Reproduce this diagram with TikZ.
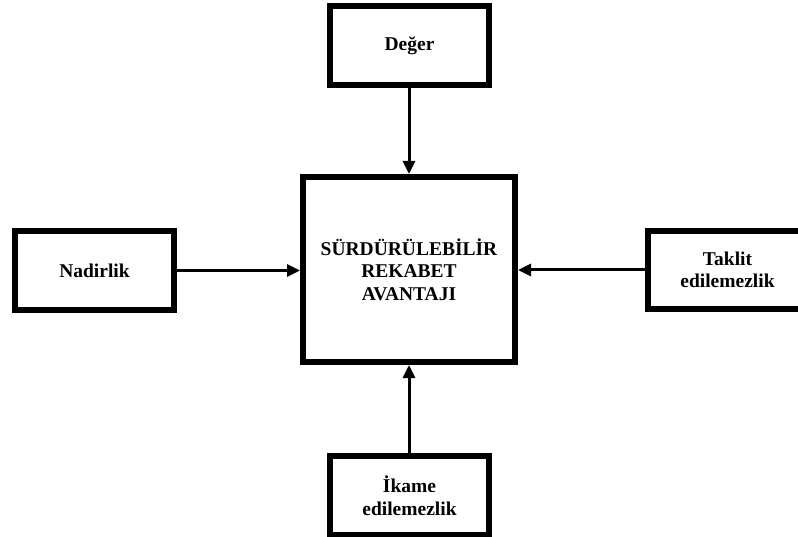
\documentclass[tikz,border=0pt]{standalone}
\usepackage{fontspec}
\setmainfont{Liberation Serif}
\usetikzlibrary{positioning,arrows.meta}
\tikzset{
kutu/.style = {draw, line width=6pt, minimum width=#1, minimum height=79pt, inner sep=2pt, align=center,
  font=\bfseries\fontsize{19.5}{22.5}\selectfont},
kutu/.default = 159pt, % outer box width
ok/.style = {line width=3pt, -{Triangle[length=13pt,width=12pt]}}
}

\begin{document}
\begin{tikzpicture}[x=1pt,y=-1pt]
  \useasboundingbox (0,0) rectangle (798,537);
  \clip (0,0) rectangle (798,537);
  \node [kutu=212pt, minimum height=185pt] (merkez) at (409,269.5) {SÜRDÜRÜLEBİLİR\\REKABET\\AVANTAJI};
  \node [kutu] (deger) at (409.5,45.5) {Değer};
  \node [kutu] (nadirlik) at (94.5,270.5) {Nadirlik};
  \node [kutu, minimum height=78pt] (taklit) at (727.5,270) {Taklit\\edilemezlik};
  \node [kutu] (ikame) at (409.5,495.5) {İkame\\edilemezlik};
  % arrows into the centre
  \draw [ok] (deger.south -| merkez.north) -- (merkez.north);
  \draw [ok] (ikame.north -| merkez.south) -- (merkez.south);
  \draw [ok] (nadirlik.east) -- (nadirlik.east -| merkez.west);
  \draw [ok] (taklit.west) -- (taklit.west -| merkez.east);
\end{tikzpicture}
\end{document}
